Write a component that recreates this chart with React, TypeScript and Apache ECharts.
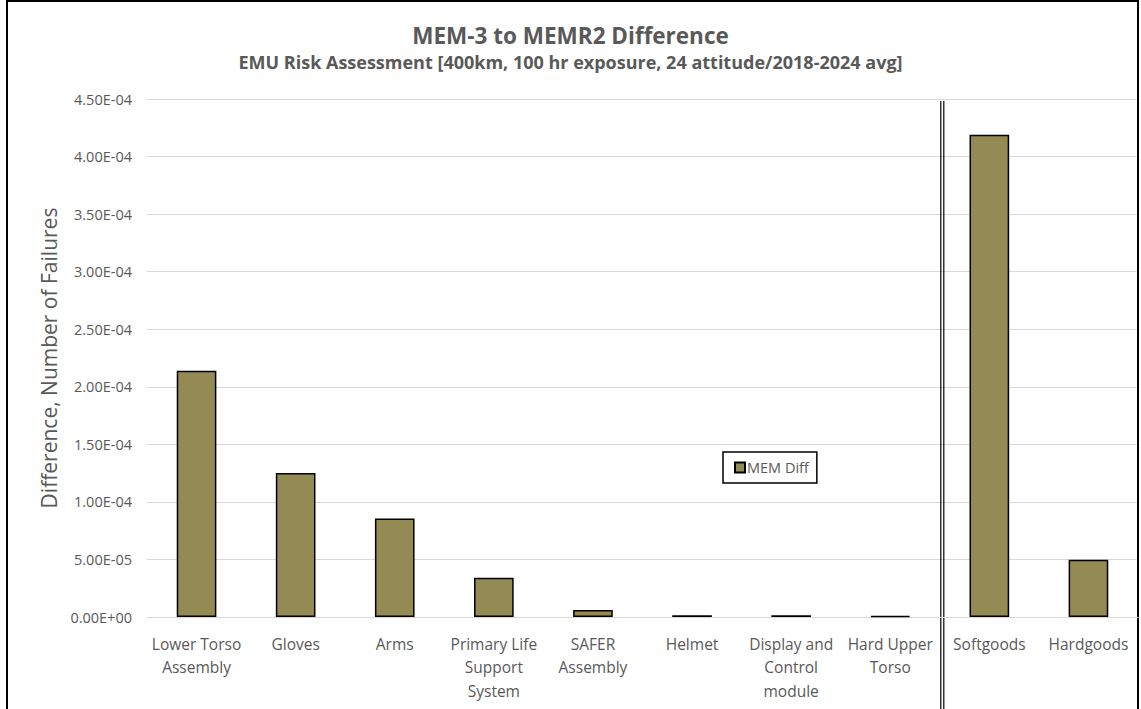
import React, { useEffect, useRef } from "react";
import * as echarts from "echarts";

const categories = [
  "Lower Torso\nAssembly",
  "Gloves",
  "Arms",
  "Primary Life\nSupport\nSystem",
  "SAFER\nAssembly",
  "Helmet",
  "Display and\nControl\nmodule",
  "Hard Upper\nTorso",
  "Softgoods",
  "Hardgoods",
];
const memDiff = [2.14e-4, 1.25e-4, 8.55e-5, 3.4e-5, 6.0e-6, 1.6e-6, 1.5e-6, 8e-7, 4.19e-4, 4.98e-5];
const seriesName = "MEM Diff";
const titleText = "MEM-3 to MEMR2 Difference";
const subtitleText = "EMU Risk Assessment [400km, 100 hr exposure, 24 attitude/2018-2024 avg]";
const yAxisName = "Difference, Number of Failures";

const fontFamily = "'Open Sans', 'Noto Sans', sans-serif";
const textColor = "#595959";

function fmtExp(v: number): string {
  if (v === 0) return "0.00E+00";
  const s = v.toExponential(2);
  const [m, e] = s.split("e");
  const sign = e[0] === "-" ? "-" : "+";
  const digits = e.replace(/[+-]/, "").padStart(2, "0");
  return `${m}E${sign}${digits}`;
}

export default function App() {
  const ref = useRef<HTMLDivElement>(null);
  useEffect(() => {
    if (!ref.current) return;
    const chart = echarts.init(ref.current, undefined, { renderer: "svg" });
    chart.setOption({
      animation: false,
      backgroundColor: "#ffffff",
      title: {
        text: titleText,
        subtext: subtitleText,
        left: "center",
        top: 19,
        itemGap: 6,
        textStyle: { fontFamily, fontSize: 22.5, fontWeight: "bold", color: textColor },
        subtextStyle: { fontFamily, fontSize: 18, fontWeight: "bold", color: textColor },
      },
      legend: {
        data: [seriesName],
        left: 723,
        top: 452,
        padding: [8, 8, 8, 11],
        backgroundColor: "#ffffff",
        borderColor: "#000000",
        borderWidth: 1.5,
        itemWidth: 10,
        itemHeight: 10,
        itemGap: 4,
        icon: "rect",
        textStyle: { fontFamily, fontSize: 14.5, color: textColor, padding: [0, 0, 0, -3] },
      },
      grid: { left: 147, right: 3, top: 99, bottom: 92, containLabel: false },
      xAxis: {
        type: "category",
        data: categories,
        axisLine: { show: true, lineStyle: { color: "#d9d9d9", width: 1 } },
        axisTick: { show: false },
        axisLabel: {
          interval: 0,
          margin: 15,
          fontFamily,
          fontSize: 15.5,
          color: textColor,
          lineHeight: 23.5,
        },
      },
      yAxis: {
        type: "value",
        min: 0,
        max: 4.5e-4,
        interval: 5e-5,
        name: yAxisName,
        nameLocation: "middle",
        nameGap: 88,
        nameTextStyle: { fontFamily, fontSize: 21, color: textColor },
        axisLine: { show: false },
        axisTick: { show: false },
        splitLine: { lineStyle: { color: "#d9d9d9", width: 1 } },
        axisLabel: {
          margin: 15,
          fontFamily,
          fontSize: 14.5,
          color: textColor,
          formatter: (v: number) => fmtExp(v),
        },
      },
      series: [
        {
          name: seriesName,
          type: "bar",
          data: memDiff,
          barWidth: "40%",
          itemStyle: { color: "#948a54", borderColor: "#000000", borderWidth: 1.5 },
        },
      ],
    });
    const c7 = chart.convertToPixel({ xAxisIndex: 0 }, 7) as unknown as number;
    const c8 = chart.convertToPixel({ xAxisIndex: 0 }, 8) as unknown as number;
    const xs = (c7 + c8) / 2 + 1;
    chart.setOption({
      graphic: [
        {
          type: "rect",
          shape: { x: 7, y: 1, width: 1131, height: 730 },
          style: { fill: "none", stroke: "#000000", lineWidth: 2 },
          silent: true,
        },
        {
          type: "line",
          shape: { x1: xs, y1: 101, x2: xs, y2: 712 },
          style: { stroke: "#000000", lineWidth: 1.2 },
          silent: true,
        },
        {
          type: "line",
          shape: { x1: xs + 3, y1: 101, x2: xs + 3, y2: 712 },
          style: { stroke: "#000000", lineWidth: 1.2 },
          silent: true,
        },
      ],
    });
    return () => chart.dispose();
  }, []);
  return (
    <div
      ref={ref}
      style={{ position: "fixed", left: 0, top: 0, width: 1141, height: 709 }}
    />
  );
}
